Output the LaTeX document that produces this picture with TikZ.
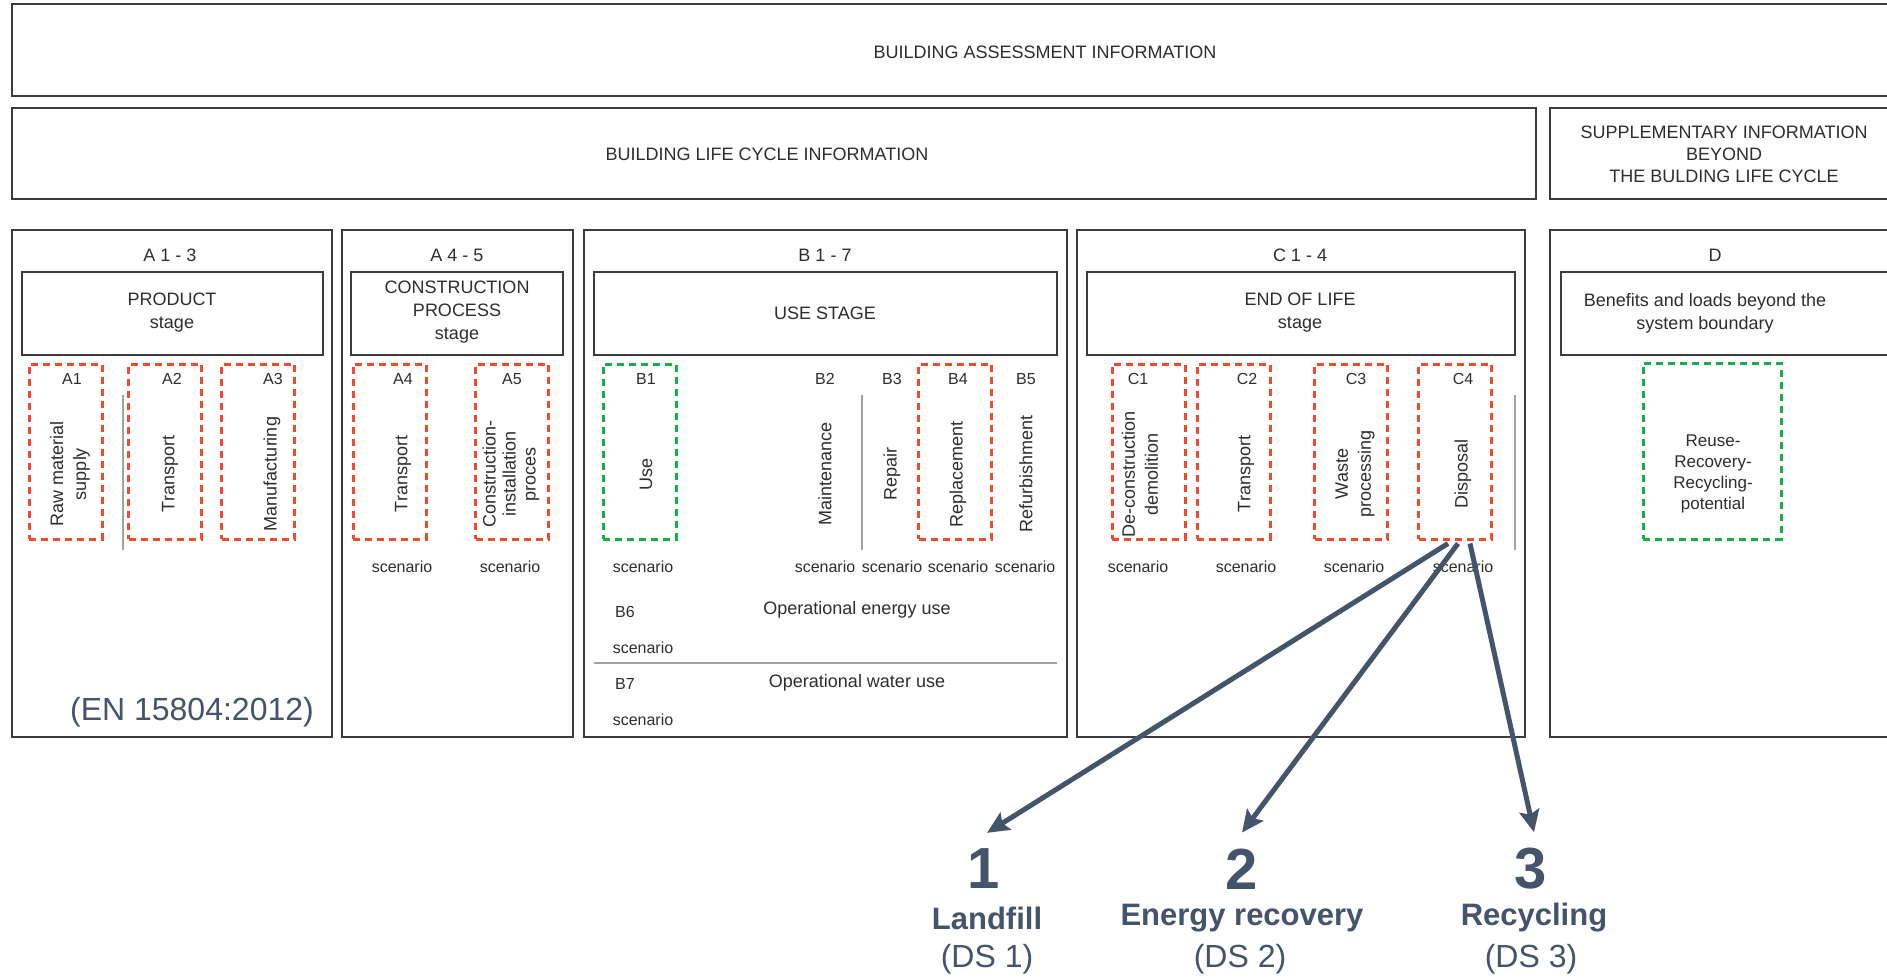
\documentclass[tikz,border=0pt]{standalone}
\usepackage{fontspec}
\setmainfont{Liberation Sans}
\usetikzlibrary{arrows.meta}

\definecolor{framegray}{HTML}{3C3C3C}
\definecolor{rulegray}{HTML}{A3A3A3}
\definecolor{ink}{HTML}{2E2E2E}
\definecolor{redline}{HTML}{F04B2D}
\definecolor{greenline}{HTML}{1AAE4B}
\definecolor{slate}{HTML}{44546A}

\begin{document}
\begin{tikzpicture}[x=1pt,y=-1pt,
   every node/.style={text=ink,font=\fontsize{18}{23}\selectfont},
   stagebox/.style={draw=framegray,line width=2.5pt},
   divider/.style={draw=rulegray,line width=1.5pt},
   redbox/.style={draw=redline,dash pattern=on 7pt off 5pt,line width=3pt,
                  minimum width=73pt,minimum height=175pt,inner sep=0pt},
   greenbox/.style={redbox,draw=greenline},
   modlabel/.style={font=\fontsize{16}{19}\selectfont},
   modtext/.style={rotate=90,align=center},
   scen/.style={font=\fontsize{16}{19}\selectfont},
   number/.style={text=slate,inner sep=0pt,font=\fontsize{58}{60}\selectfont\bfseries},
   outcome/.style={text=slate,font=\fontsize{31}{36}\selectfont\bfseries},
   source/.style={text=slate,font=\fontsize{32}{36}\selectfont},
   arr/.style={draw=slate,line width=5pt,-{Stealth[length=22pt,width=20pt,inset=4pt]}}]

\useasboundingbox (0,0) rectangle (1887,977);
\fill[white] (0,0) rectangle (1887,977);
\clip (0,0) rectangle (1887,977);

% information rows
\draw[stagebox] (12,4) rectangle (1895,96);
\draw[stagebox] (12,108) rectangle (1536,199);
\draw[stagebox] (1550,108) rectangle (1895,199);
\node (assess) at (1045,52) {BUILDING ASSESSMENT INFORMATION};
\node (lifecycle) at (767,154) {BUILDING LIFE CYCLE INFORMATION};
\node[align=center,font=\fontsize{18}{22}\selectfont] (beyond) at (1724,154)
    {SUPPLEMENTARY INFORMATION\\BEYOND\\THE BULDING LIFE CYCLE};

% stage columns
\draw[stagebox] (12,230) rectangle (332,737);
\draw[stagebox] (342,230) rectangle (573,737);
\draw[stagebox] (584,230) rectangle (1067,737);
\draw[stagebox] (1077,230) rectangle (1525,737);
\draw[stagebox] (1550,230) rectangle (1895,737);

\draw[stagebox] (22,272) rectangle (323,355);
\draw[stagebox] (351,272) rectangle (563,355);
\draw[stagebox] (594,272) rectangle (1057,355);
\draw[stagebox] (1087,272) rectangle (1515,355);
\draw[stagebox] (1561,272) rectangle (1895,355);

\node (colA) at (170,255) {A 1 - 3};
\node (colAA) at (457,255) {A 4 - 5};
\node (colB) at (825,255) {B 1 - 7};
\node (colC) at (1300,255) {C 1 - 4};
\node (colD) at (1715,255) {D};

\node[align=center] (product) at (172,313) {PRODUCT\\stage};
\node[align=center] (construction) at (457,312) {CONSTRUCTION\\PROCESS\\stage};
\node (use) at (825,313) {USE STAGE};
\node[align=center] (endoflife) at (1300,313) {END OF LIFE\\stage};
\node[align=center] (benefits) at (1705,313) {Benefits and loads beyond the\\system boundary};

\draw[divider] (123,395) -- (123,550);
\draw[divider] (862,395) -- (862,550);
\draw[divider] (1515,395) -- (1515,550);
\draw[divider] (594,663) -- (1057,663);

% modules
\node[redbox] (a1) at (65.5,451.5) {};
\node[redbox] (a2) at (165,451.5) {};
\node[redbox] (a3) at (258,451.5) {};
\node[redbox] (a4) at (389.5,451.5) {};
\node[redbox] (a5) at (512,451.5) {};
\node[greenbox] (b1) at (639.5,451.5) {};
\node[redbox] (b4) at (955,451.5) {};
\node[redbox] (c1) at (1148.5,451.5) {};
\node[redbox] (c2) at (1233.5,451.5) {};
\node[redbox] (c3) at (1351,451.5) {};
\node[redbox] (c4) at (1455,451.5) {};
\node[greenbox,minimum width=138pt,minimum height=176pt] (d) at (1712,451) {};

\node[modlabel] (la1) at (72,379) {A1};
\node[modlabel] (la2) at (172,379) {A2};
\node[modlabel] (la3) at (273,379) {A3};
\node[modlabel] (la4) at (403,379) {A4};
\node[modlabel] (la5) at (512,379) {A5};
\node[modlabel] (lb1) at (646,379) {B1};
\node[modlabel] (lb2) at (825,379) {B2};
\node[modlabel] (lb3) at (892,379) {B3};
\node[modlabel] (lb4) at (958,379) {B4};
\node[modlabel] (lb5) at (1026,379) {B5};
\node[modlabel] (lc1) at (1138,379) {C1};
\node[modlabel] (lc2) at (1247,379) {C2};
\node[modlabel] (lc3) at (1356,379) {C3};
\node[modlabel] (lc4) at (1463,379) {C4};

\node[modtext] (ta1) at (70,474) {Raw material\\supply};
\node[modtext] (ta2) at (170,474) {Transport};
\node[modtext] (ta3) at (272,474) {Manufacturing};
\node[modtext] (ta4) at (403,474) {Transport};
\node[modtext,font=\fontsize{18}{20}\selectfont] (ta5) at (511,474) {Construction-\\installation\\proces};
\node[modtext] (tb1) at (646,474) {Use};
\node[modtext] (tb2) at (825,474) {Maintenance};
\node[modtext] (tb3) at (892,474) {Repair};
\node[modtext] (tb4) at (958,474) {Replacement};
\node[modtext] (tb5) at (1026,474) {Refurbishment};
\node[modtext] (tc1) at (1140,474) {De-construction\\demolition};
\node[modtext] (tc2) at (1246,474) {Transport};
\node[modtext] (tc3) at (1355,474) {Waste\\processing};
\node[modtext] (tc4) at (1463,474) {Disposal};
\node[align=center,font=\fontsize{17}{21}\selectfont] (td) at (1713,474)
    {Reuse-\\Recovery-\\Recycling-\\potential};

\node[scen] (sa4) at (402,567) {scenario};
\node[scen] (sa5) at (510,567) {scenario};
\node[scen] (sb1) at (643,567) {scenario};
\node[scen] (sb2) at (825,567) {scenario};
\node[scen] (sb3) at (892,567) {scenario};
\node[scen] (sb4) at (958,567) {scenario};
\node[scen] (sb5) at (1025,567) {scenario};
\node[scen] (sc1) at (1138,567) {scenario};
\node[scen] (sc2) at (1246,567) {scenario};
\node[scen] (sc3) at (1354,567) {scenario};
\node[scen] (sc4) at (1463,567) {scenario};

\node[modlabel] (lb6) at (625,612) {B6};
\node (energy) at (857,610) {Operational energy use};
\node[scen] (sb6) at (643,648) {scenario};
\node[modlabel] (lb7) at (625,684) {B7};
\node (water) at (857,683) {Operational water use};
\node[scen] (sb7) at (643,720) {scenario};

\node[source] (norm) at (192,712) {(EN 15804:2012)};

% disposal scenarios
\node[number] (one) at (984,869) {1};
\node[number] (two) at (1242,869) {2};
\node[number] (three) at (1531,869) {3};
\node[outcome] (landfill) at (987,918) {Landfill};
\node[outcome] (recovery) at (1242,918) {Energy recovery};
\node[outcome] (recycling) at (1534,918) {Recycling};
\node[source] (ds1) at (987,959) {(DS 1)};
\node[source] (ds2) at (1240,959) {(DS 2)};
\node[source] (ds3) at (1531,959) {(DS 3)};

\draw[arr] ([xshift=-7pt,yshift=-3pt]c4.south) -- ([xshift=3pt,yshift=16pt]one.north);
\draw[arr] ([xshift=3pt,yshift=-3pt]c4.south) -- ([yshift=16pt]two.north);
\draw[arr] ([xshift=15pt,yshift=-3pt]c4.south) -- ([xshift=3pt,yshift=16pt]three.north);

\end{tikzpicture}
\end{document}
